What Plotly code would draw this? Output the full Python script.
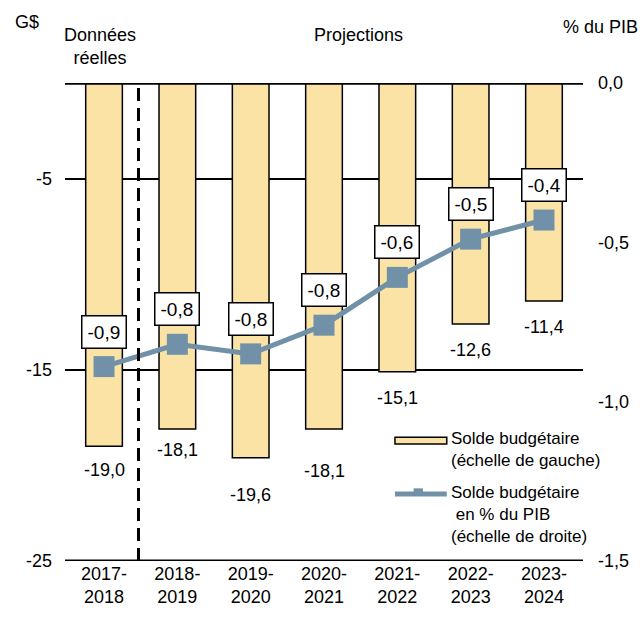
import plotly.graph_objects as go

# données
annees = ["2017-<br>2018", "2018-<br>2019", "2019-<br>2020", "2020-<br>2021",
          "2021-<br>2022", "2022-<br>2023", "2023-<br>2024"]
solde_gs = [-19.0, -18.1, -19.6, -18.1, -15.1, -12.6, -11.4]
solde_gs_txt = ["-19,0", "-18,1", "-19,6", "-18,1", "-15,1", "-12,6", "-11,4"]
solde_pib = [-0.89, -0.82, -0.85, -0.76, -0.61, -0.49, -0.43]
solde_pib_txt = ["-0,9", "-0,8", "-0,8", "-0,8", "-0,6", "-0,5", "-0,4"]
gauche_ticks = [-25, -15, -5]
gauche_txt = ["-25", "-15", "-5"]
droite_ticks = [0, -0.5, -1.0, -1.5]
droite_txt = ["0,0", "-0,5", "-1,0", "-1,5"]

# décalage vertical (px) des étiquettes sous les barres
decal_barres = [24, 21, 37, 42, 26, 26, 26]

JAUNE = "#FBE3A6"
BLEU = "#7191A9"
POLICE = "Liberation Sans, Arial, sans-serif"

fig = go.Figure()
fig.add_trace(go.Bar(x=annees, y=solde_gs, width=0.5, marker_color=JAUNE,
                     marker_line=dict(color="black", width=1.5), yaxis="y",
                     showlegend=False, hoverinfo="skip"))
fig.add_trace(go.Scatter(x=annees, y=solde_pib, yaxis="y2", mode="lines+markers",
                         line=dict(color=BLEU, width=5),
                         marker=dict(symbol="square", size=21, color=BLEU),
                         showlegend=False, hoverinfo="skip"))

# étiquettes des barres
for a, v, t, d in zip(annees, solde_gs, solde_gs_txt, decal_barres):
    fig.add_annotation(x=a, y=v, yref="y", text=t, showarrow=False,
                       yanchor="middle", yshift=-d, font=dict(size=18))

# étiquettes encadrées de la ligne
for a, v, t in zip(annees, solde_pib, solde_pib_txt):
    fig.add_annotation(x=a, y=v, yref="y2", text=t, showarrow=False,
                       yanchor="middle", yshift=35, font=dict(size=19),
                       bgcolor="white", bordercolor="black", borderwidth=1.5,
                       borderpad=5)

# ligne pointillée données réelles / projections
fig.add_shape(type="line", xref="x", yref="paper", x0=0.47, x1=0.47, y0=0, y1=1,
              line=dict(color="black", width=3, dash="13px,7px"))
# lignes du haut et du bas
fig.add_shape(type="line", xref="paper", yref="y", x0=0, x1=1, y0=0, y1=0,
              line=dict(color="black", width=3.5))
fig.add_shape(type="line", xref="paper", yref="y", x0=0, x1=1, y0=-25, y1=-25,
              line=dict(color="black", width=3))

# légende manuelle
fig.add_shape(type="rect", xref="paper", yref="paper", x0=0.637, x1=0.737,
              y0=0.245, y1=0.259, fillcolor=JAUNE, line=dict(color="black", width=1.5))
fig.add_shape(type="line", xref="paper", yref="paper", x0=0.637, x1=0.737,
              y0=0.140, y1=0.140, line=dict(color=BLEU, width=5))
fig.add_shape(type="rect", xref="paper", yref="paper", x0=0.673, x1=0.691,
              y0=0.140, y1=0.152, fillcolor=BLEU, line=dict(width=0))
fig.add_annotation(xref="paper", yref="paper", x=0.741, y=0.234, xanchor="left",
                   yanchor="middle", align="left", showarrow=False,
                   text="Solde budgétaire<br>(échelle de gauche)", font=dict(size=17))
fig.add_annotation(xref="paper", yref="paper", x=0.741, y=0.098, xanchor="left",
                   yanchor="middle", align="left", showarrow=False,
                   text="Solde budgétaire<br> en % du PIB<br>(échelle de droite)",
                   font=dict(size=17))

# textes au-dessus du graphique
for x, y, t in [(-0.073, 1.128, "G$"), (0.068, 1.077, "Données<br>réelles"),
                (0.566, 1.100, "Projections"), (1.033, 1.117, "% du PIB")]:
    fig.add_annotation(xref="paper", yref="paper", x=x, y=y, text=t, showarrow=False,
                       xanchor="center", yanchor="middle", font=dict(size=18))

fig.update_layout(
    width=642, height=618,
    margin=dict(l=65, r=59, t=83, b=57),
    plot_bgcolor="white", paper_bgcolor="white",
    font=dict(family=POLICE, size=18, color="black"),
    xaxis=dict(showgrid=False, showline=False, ticks="", tickfont=dict(size=18)),
    yaxis=dict(range=[-25, 0], tickvals=gauche_ticks, ticktext=gauche_txt,
               showgrid=True, gridcolor="black", gridwidth=1.5, zeroline=False,
               showline=False, ticks="", ticklabelstandoff=12),
    yaxis2=dict(range=[-1.5, 0], tickvals=droite_ticks, ticktext=droite_txt,
                overlaying="y", side="right", showgrid=False, zeroline=False,
                showline=False, ticks="", ticklabelstandoff=14),
)

fig.write_html("out.html", config={"displayModeBar": False},
               post_script="document.body.style.margin='0px';")
